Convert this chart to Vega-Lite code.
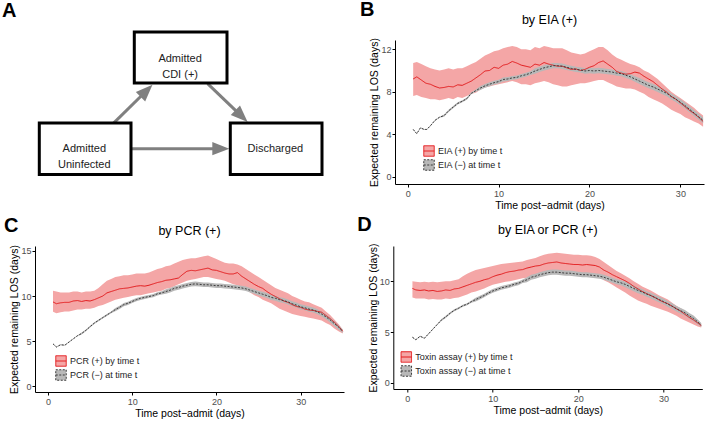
{
"$schema":"https://vega.github.io/schema/vega-lite/v6.json",
"background":"white",
"padding":{"left":2,"top":0,"right":0,"bottom":0},
"config":{
 "font":"Liberation Sans",
 "view":{"stroke":null},
 "axis":{"grid":false,"domainColor":"#000","domainWidth":1,"tickColor":"#000","tickWidth":1,"tickSize":3,"labelFontSize":9,"labelColor":"#4d4d4d","labelPadding":2,"titleFontSize":10.5,"titleFontWeight":"normal","titleColor":"#000"},
 "axisX":{"titlePadding":2},
 "axisY":{"titlePadding":1,"labelPadding":1},
 "legend":{"symbolType":"M-1,-1H1V1H-1ZM-1,0H1","symbolSize":110,"symbolStrokeWidth":1,"labelFontSize":9,"labelColor":"#222","rowPadding":-7,"padding":0,"labelOffset":3},
 "title":{"fontSize":12.5,"fontWeight":"normal","color":"#000","anchor":"middle"}
},
"datasets":{
"boxes":[
 {"label":"Admitted\nCDI (+)","x1":99.3,"x2":192,"y1":-7.9,"y2":43.1,"cx":145.1,"cy":18.7},
 {"label":"Admitted\nUninfected","x1":4.3,"x2":96,"y1":83.1,"y2":134.4,"cx":49.3,"cy":108.7},
 {"label":"Discharged","x1":195.3,"x2":287,"y1":83.1,"y2":134.4,"cx":240.3,"cy":108.7}
],
"arrows":[
 {"x":78.6,"y":83.1,"x2":111.5,"y2":50.7,"hx":111.5,"hy":50.7,"ang":45},
 {"x":172.6,"y":43.7,"x2":206.5,"y2":76.2,"hx":206.5,"hy":76.2,"ang":134},
 {"x":96.6,"y":108.7,"x2":185.8,"y2":108.7,"hx":185.8,"hy":108.7,"ang":90}
],
"B":[
{"t":0.6,"s":"p","m":9.2,"l":7.6,"h":10.7},{"t":1.0,"s":"p","m":9.4,"l":7.7,"h":10.8},{"t":1.5,"s":"p","m":9.1,"l":7.5,"h":10.6},{"t":2.0,"s":"p","m":8.8,"l":7.4,"h":10.4},{"t":2.5,"s":"p","m":8.7,"l":7.3,"h":10.2},{"t":3.0,"s":"p","m":8.5,"l":7.3,"h":10.1},{"t":3.5,"s":"p","m":8.35,"l":7.2,"h":10.0},{"t":4.0,"s":"p","m":8.4,"l":7.3,"h":10.1},{"t":4.5,"s":"p","m":8.5,"l":7.4,"h":10.2},{"t":5.0,"s":"p","m":8.45,"l":7.3,"h":10.1},{"t":5.5,"s":"p","m":8.65,"l":7.5,"h":10.2},{"t":6.0,"s":"p","m":8.6,"l":7.4,"h":10.2},{"t":6.5,"s":"p","m":8.8,"l":7.6,"h":10.4},{"t":7.0,"s":"p","m":9.0,"l":7.8,"h":10.6},{"t":7.5,"s":"p","m":9.3,"l":7.9,"h":10.8},{"t":8.0,"s":"p","m":9.6,"l":8.2,"h":11.1},{"t":8.5,"s":"p","m":9.95,"l":8.4,"h":11.4},{"t":9.0,"s":"p","m":10.0,"l":8.5,"h":11.6},{"t":9.5,"s":"p","m":10.3,"l":8.6,"h":11.8},{"t":10.0,"s":"p","m":10.2,"l":8.7,"h":11.9},{"t":10.5,"s":"p","m":10.5,"l":8.8,"h":12.1},{"t":11.0,"s":"p","m":10.6,"l":8.9,"h":12.2},{"t":11.5,"s":"p","m":10.85,"l":9.0,"h":12.3},{"t":12.0,"s":"p","m":10.7,"l":8.9,"h":12.2},{"t":12.5,"s":"p","m":10.5,"l":8.7,"h":12.0},{"t":13.0,"s":"p","m":10.4,"l":8.7,"h":12.0},{"t":13.5,"s":"p","m":10.3,"l":8.6,"h":11.9},{"t":14.0,"s":"p","m":10.6,"l":8.8,"h":12.2},{"t":14.5,"s":"p","m":10.5,"l":8.9,"h":12.1},{"t":15.0,"s":"p","m":10.75,"l":9.0,"h":12.3},{"t":15.5,"s":"p","m":10.6,"l":8.9,"h":12.2},{"t":16.0,"s":"p","m":10.5,"l":8.7,"h":12.1},{"t":16.5,"s":"p","m":10.4,"l":8.6,"h":12.1},{"t":17.0,"s":"p","m":10.4,"l":8.5,"h":12.1},{"t":17.5,"s":"p","m":10.25,"l":8.5,"h":11.9},{"t":18.0,"s":"p","m":10.1,"l":8.6,"h":11.7},{"t":18.5,"s":"p","m":10.15,"l":8.7,"h":11.6},{"t":19.0,"s":"p","m":10.0,"l":8.8,"h":11.5},{"t":19.5,"s":"p","m":10.1,"l":8.8,"h":11.6},{"t":20.0,"s":"p","m":10.3,"l":8.9,"h":11.8},{"t":20.5,"s":"p","m":10.45,"l":9.0,"h":12.0},{"t":21.0,"s":"p","m":10.75,"l":9.1,"h":12.2},{"t":21.5,"s":"p","m":10.9,"l":9.1,"h":12.2},{"t":22.0,"s":"p","m":10.6,"l":8.9,"h":11.9},{"t":22.5,"s":"p","m":10.3,"l":8.7,"h":11.5},{"t":23.0,"s":"p","m":9.9,"l":8.5,"h":11.2},{"t":23.5,"s":"p","m":9.75,"l":8.4,"h":11.0},{"t":24.0,"s":"p","m":9.65,"l":8.3,"h":10.8},{"t":24.5,"s":"p","m":9.7,"l":8.3,"h":10.6},{"t":25.0,"s":"p","m":9.85,"l":8.2,"h":10.5},{"t":25.5,"s":"p","m":9.75,"l":8.0,"h":10.3},{"t":26.0,"s":"p","m":9.45,"l":7.8,"h":10.0},{"t":26.5,"s":"p","m":9.2,"l":7.5,"h":9.8},{"t":27.0,"s":"p","m":8.95,"l":7.3,"h":9.5},{"t":27.5,"s":"p","m":8.6,"l":7.1,"h":9.2},{"t":28.0,"s":"p","m":8.25,"l":6.9,"h":8.8},{"t":28.5,"s":"p","m":7.95,"l":6.6,"h":8.4},{"t":29.0,"s":"p","m":7.55,"l":6.3,"h":8.0},{"t":29.5,"s":"p","m":7.3,"l":6.1,"h":7.7},{"t":30.0,"s":"p","m":6.95,"l":5.9,"h":7.4},{"t":30.5,"s":"p","m":6.6,"l":5.6,"h":7.1},{"t":31.0,"s":"p","m":6.25,"l":5.4,"h":6.8},{"t":31.5,"s":"p","m":5.95,"l":5.2,"h":6.5},{"t":32.0,"s":"p","m":5.6,"l":5.0,"h":6.1},{"t":32.5,"s":"p","m":5.2,"l":4.7,"h":5.75},
{"t":0.6,"s":"n","m":4.45,"l":4.4,"h":4.5},{"t":1.0,"s":"n","m":4.05,"l":4.0,"h":4.1},{"t":1.4,"s":"n","m":4.6,"l":4.55,"h":4.65},{"t":1.8,"s":"n","m":4.45,"l":4.4,"h":4.5},{"t":2.1,"s":"n","m":4.45,"l":4.4,"h":4.5},{"t":2.5,"s":"n","m":4.8,"l":4.75,"h":4.85},{"t":3.0,"s":"n","m":5.3,"l":5.25,"h":5.35},{"t":3.5,"s":"n","m":5.6,"l":5.55,"h":5.65},{"t":4.0,"s":"n","m":5.75,"l":5.65,"h":5.85},{"t":4.5,"s":"n","m":6.2,"l":6.1,"h":6.3},{"t":5.0,"s":"n","m":6.55,"l":6.45,"h":6.65},{"t":5.5,"s":"n","m":6.9,"l":6.8,"h":7.0},{"t":6.0,"s":"n","m":7.1,"l":7.0,"h":7.2},{"t":6.5,"s":"n","m":7.35,"l":7.25,"h":7.45},{"t":7.0,"s":"n","m":7.85,"l":7.75,"h":7.95},{"t":7.5,"s":"n","m":8.1,"l":8.0,"h":8.2},{"t":8.0,"s":"n","m":8.35,"l":8.17,"h":8.53},{"t":8.5,"s":"n","m":8.55,"l":8.37,"h":8.73},{"t":9.0,"s":"n","m":8.7,"l":8.52,"h":8.88},{"t":9.5,"s":"n","m":8.85,"l":8.67,"h":9.03},{"t":10.0,"s":"n","m":8.95,"l":8.77,"h":9.13},{"t":10.5,"s":"n","m":9.15,"l":8.97,"h":9.33},{"t":11.0,"s":"n","m":9.2,"l":9.02,"h":9.38},{"t":11.5,"s":"n","m":9.3,"l":9.12,"h":9.48},{"t":12.0,"s":"n","m":9.35,"l":9.17,"h":9.53},{"t":12.5,"s":"n","m":9.5,"l":9.32,"h":9.68},{"t":13.0,"s":"n","m":9.6,"l":9.42,"h":9.78},{"t":13.5,"s":"n","m":9.75,"l":9.57,"h":9.93},{"t":14.0,"s":"n","m":9.95,"l":9.7,"h":10.2},{"t":14.5,"s":"n","m":10.1,"l":9.85,"h":10.35},{"t":15.0,"s":"n","m":10.25,"l":10.0,"h":10.5},{"t":15.5,"s":"n","m":10.35,"l":10.1,"h":10.6},{"t":16.0,"s":"n","m":10.45,"l":10.2,"h":10.7},{"t":16.5,"s":"n","m":10.45,"l":10.2,"h":10.7},{"t":17.0,"s":"n","m":10.4,"l":10.15,"h":10.65},{"t":17.5,"s":"n","m":10.3,"l":10.05,"h":10.55},{"t":18.0,"s":"n","m":10.2,"l":9.95,"h":10.45},{"t":18.5,"s":"n","m":10.1,"l":9.85,"h":10.35},{"t":19.0,"s":"n","m":10.05,"l":9.8,"h":10.3},{"t":19.5,"s":"n","m":9.95,"l":9.7,"h":10.2},{"t":20.0,"s":"n","m":10.0,"l":9.75,"h":10.25},{"t":20.5,"s":"n","m":9.95,"l":9.7,"h":10.2},{"t":21.0,"s":"n","m":10.0,"l":9.75,"h":10.25},{"t":21.5,"s":"n","m":9.95,"l":9.7,"h":10.2},{"t":22.0,"s":"n","m":9.9,"l":9.65,"h":10.15},{"t":22.5,"s":"n","m":9.85,"l":9.6,"h":10.1},{"t":23.0,"s":"n","m":9.75,"l":9.5,"h":10.0},{"t":23.5,"s":"n","m":9.7,"l":9.45,"h":9.95},{"t":24.0,"s":"n","m":9.55,"l":9.3,"h":9.8},{"t":24.5,"s":"n","m":9.4,"l":9.15,"h":9.65},{"t":25.0,"s":"n","m":9.2,"l":8.95,"h":9.45},{"t":25.5,"s":"n","m":9.0,"l":8.72,"h":9.28},{"t":26.0,"s":"n","m":8.8,"l":8.52,"h":9.08},{"t":26.5,"s":"n","m":8.6,"l":8.32,"h":8.88},{"t":27.0,"s":"n","m":8.45,"l":8.17,"h":8.73},{"t":27.5,"s":"n","m":8.25,"l":7.97,"h":8.53},{"t":28.0,"s":"n","m":8.05,"l":7.77,"h":8.33},{"t":28.5,"s":"n","m":7.85,"l":7.57,"h":8.13},{"t":29.0,"s":"n","m":7.55,"l":7.27,"h":7.83},{"t":29.5,"s":"n","m":7.3,"l":7.02,"h":7.58},{"t":30.0,"s":"n","m":7.0,"l":6.72,"h":7.28},{"t":30.5,"s":"n","m":6.7,"l":6.42,"h":6.98},{"t":31.0,"s":"n","m":6.35,"l":6.07,"h":6.63},{"t":31.5,"s":"n","m":6.0,"l":5.72,"h":6.28},{"t":32.0,"s":"n","m":5.65,"l":5.37,"h":5.93},{"t":32.5,"s":"n","m":5.3,"l":5.02,"h":5.58}
],
"C":[
{"t":0.6,"s":"p","m":9.35,"l":8.25,"h":10.6},{"t":1.0,"s":"p","m":9.15,"l":8.1,"h":10.5},{"t":1.5,"s":"p","m":9.25,"l":8.2,"h":10.4},{"t":2.0,"s":"p","m":9.3,"l":8.3,"h":10.4},{"t":2.5,"s":"p","m":9.3,"l":8.3,"h":10.4},{"t":3.0,"s":"p","m":9.45,"l":8.4,"h":10.5},{"t":3.5,"s":"p","m":9.5,"l":8.5,"h":10.5},{"t":4.0,"s":"p","m":9.4,"l":8.5,"h":10.4},{"t":4.5,"s":"p","m":9.5,"l":8.6,"h":10.5},{"t":5.0,"s":"p","m":9.45,"l":8.6,"h":10.5},{"t":5.5,"s":"p","m":9.6,"l":8.7,"h":10.6},{"t":6.0,"s":"p","m":9.8,"l":8.9,"h":10.9},{"t":6.5,"s":"p","m":10.0,"l":9.0,"h":11.3},{"t":7.0,"s":"p","m":10.35,"l":9.2,"h":11.7},{"t":7.5,"s":"p","m":10.5,"l":9.4,"h":11.9},{"t":8.0,"s":"p","m":10.65,"l":9.6,"h":12.1},{"t":8.5,"s":"p","m":10.8,"l":9.7,"h":12.2},{"t":9.0,"s":"p","m":10.85,"l":9.8,"h":12.3},{"t":9.5,"s":"p","m":10.9,"l":9.9,"h":12.3},{"t":10.0,"s":"p","m":11.0,"l":10.0,"h":12.4},{"t":10.5,"s":"p","m":11.1,"l":10.1,"h":12.5},{"t":11.0,"s":"p","m":11.15,"l":10.1,"h":12.5},{"t":11.5,"s":"p","m":11.1,"l":10.2,"h":12.5},{"t":12.0,"s":"p","m":11.2,"l":10.3,"h":12.6},{"t":12.5,"s":"p","m":11.35,"l":10.4,"h":12.8},{"t":13.0,"s":"p","m":11.5,"l":10.5,"h":13.0},{"t":13.5,"s":"p","m":11.6,"l":10.6,"h":13.1},{"t":14.0,"s":"p","m":11.75,"l":10.8,"h":13.3},{"t":14.5,"s":"p","m":11.8,"l":10.9,"h":13.4},{"t":15.0,"s":"p","m":11.9,"l":11.1,"h":13.6},{"t":15.5,"s":"p","m":12.0,"l":11.3,"h":13.8},{"t":16.0,"s":"p","m":12.4,"l":11.5,"h":14.0},{"t":16.5,"s":"p","m":12.75,"l":11.7,"h":14.1},{"t":17.0,"s":"p","m":12.85,"l":11.8,"h":14.2},{"t":17.5,"s":"p","m":12.8,"l":11.9,"h":14.2},{"t":18.0,"s":"p","m":12.9,"l":12.0,"h":14.3},{"t":18.5,"s":"p","m":13.0,"l":12.1,"h":14.4},{"t":19.0,"s":"p","m":13.1,"l":12.1,"h":14.5},{"t":19.5,"s":"p","m":12.9,"l":12.0,"h":14.3},{"t":20.0,"s":"p","m":12.85,"l":11.9,"h":14.1},{"t":20.5,"s":"p","m":12.7,"l":11.8,"h":13.9},{"t":21.0,"s":"p","m":12.55,"l":11.7,"h":13.7},{"t":21.5,"s":"p","m":12.45,"l":11.5,"h":13.6},{"t":22.0,"s":"p","m":12.45,"l":11.3,"h":13.6},{"t":22.5,"s":"p","m":12.6,"l":11.2,"h":13.5},{"t":23.0,"s":"p","m":12.2,"l":11.0,"h":13.3},{"t":23.5,"s":"p","m":11.9,"l":10.7,"h":13.0},{"t":24.0,"s":"p","m":11.6,"l":10.4,"h":12.7},{"t":24.5,"s":"p","m":11.3,"l":10.1,"h":12.4},{"t":25.0,"s":"p","m":11.05,"l":9.9,"h":12.1},{"t":25.5,"s":"p","m":10.85,"l":9.6,"h":11.8},{"t":26.0,"s":"p","m":10.5,"l":9.4,"h":11.5},{"t":26.5,"s":"p","m":10.2,"l":9.2,"h":11.2},{"t":27.0,"s":"p","m":9.95,"l":8.9,"h":10.9},{"t":27.5,"s":"p","m":9.7,"l":8.6,"h":10.7},{"t":28.0,"s":"p","m":9.45,"l":8.4,"h":10.5},{"t":28.5,"s":"p","m":9.3,"l":8.2,"h":10.3},{"t":29.0,"s":"p","m":9.05,"l":8.0,"h":10.0},{"t":29.5,"s":"p","m":8.85,"l":7.9,"h":9.8},{"t":30.0,"s":"p","m":8.75,"l":7.8,"h":9.6},{"t":30.5,"s":"p","m":8.55,"l":7.7,"h":9.4},{"t":31.0,"s":"p","m":8.45,"l":7.6,"h":9.3},{"t":31.5,"s":"p","m":8.4,"l":7.5,"h":9.1},{"t":32.0,"s":"p","m":8.3,"l":7.4,"h":8.9},{"t":32.5,"s":"p","m":8.2,"l":7.3,"h":8.7},{"t":33.0,"s":"p","m":7.85,"l":7.0,"h":8.3},{"t":33.5,"s":"p","m":7.5,"l":6.8,"h":7.9},{"t":34.0,"s":"p","m":7.1,"l":6.4,"h":7.4},{"t":34.5,"s":"p","m":6.65,"l":6.1,"h":6.9},{"t":35.0,"s":"p","m":6.1,"l":5.85,"h":6.3},
{"t":0.6,"s":"n","m":4.7,"l":4.65,"h":4.75},{"t":1.0,"s":"n","m":4.35,"l":4.3,"h":4.4},{"t":1.5,"s":"n","m":4.6,"l":4.55,"h":4.65},{"t":2.0,"s":"n","m":4.55,"l":4.5,"h":4.6},{"t":2.5,"s":"n","m":4.9,"l":4.85,"h":4.95},{"t":3.0,"s":"n","m":5.25,"l":5.2,"h":5.3},{"t":3.5,"s":"n","m":5.6,"l":5.55,"h":5.65},{"t":4.0,"s":"n","m":5.85,"l":5.75,"h":5.95},{"t":4.5,"s":"n","m":6.2,"l":6.1,"h":6.3},{"t":5.0,"s":"n","m":6.6,"l":6.5,"h":6.7},{"t":5.5,"s":"n","m":7.0,"l":6.9,"h":7.1},{"t":6.0,"s":"n","m":7.3,"l":7.2,"h":7.4},{"t":6.5,"s":"n","m":7.6,"l":7.5,"h":7.7},{"t":7.0,"s":"n","m":7.9,"l":7.8,"h":8.0},{"t":7.5,"s":"n","m":8.2,"l":8.1,"h":8.3},{"t":8.0,"s":"n","m":8.5,"l":8.32,"h":8.68},{"t":8.5,"s":"n","m":8.75,"l":8.57,"h":8.93},{"t":9.0,"s":"n","m":9.05,"l":8.87,"h":9.23},{"t":9.5,"s":"n","m":9.2,"l":9.02,"h":9.38},{"t":10.0,"s":"n","m":9.4,"l":9.22,"h":9.58},{"t":10.5,"s":"n","m":9.6,"l":9.42,"h":9.78},{"t":11.0,"s":"n","m":9.75,"l":9.57,"h":9.93},{"t":11.5,"s":"n","m":9.85,"l":9.67,"h":10.03},{"t":12.0,"s":"n","m":9.95,"l":9.77,"h":10.13},{"t":12.5,"s":"n","m":10.05,"l":9.87,"h":10.23},{"t":13.0,"s":"n","m":10.25,"l":10.07,"h":10.43},{"t":13.5,"s":"n","m":10.35,"l":10.17,"h":10.53},{"t":14.0,"s":"n","m":10.5,"l":10.25,"h":10.75},{"t":14.5,"s":"n","m":10.65,"l":10.4,"h":10.9},{"t":15.0,"s":"n","m":10.85,"l":10.6,"h":11.1},{"t":15.5,"s":"n","m":10.95,"l":10.7,"h":11.2},{"t":16.0,"s":"n","m":11.1,"l":10.85,"h":11.35},{"t":16.5,"s":"n","m":11.2,"l":10.95,"h":11.45},{"t":17.0,"s":"n","m":11.3,"l":11.05,"h":11.55},{"t":17.5,"s":"n","m":11.35,"l":11.1,"h":11.6},{"t":18.0,"s":"n","m":11.3,"l":11.05,"h":11.55},{"t":18.5,"s":"n","m":11.25,"l":11.0,"h":11.5},{"t":19.0,"s":"n","m":11.25,"l":11.0,"h":11.5},{"t":19.5,"s":"n","m":11.2,"l":10.95,"h":11.45},{"t":20.0,"s":"n","m":11.15,"l":10.9,"h":11.4},{"t":20.5,"s":"n","m":11.15,"l":10.9,"h":11.4},{"t":21.0,"s":"n","m":11.1,"l":10.85,"h":11.35},{"t":21.5,"s":"n","m":11.05,"l":10.8,"h":11.3},{"t":22.0,"s":"n","m":11.0,"l":10.75,"h":11.25},{"t":22.5,"s":"n","m":10.95,"l":10.7,"h":11.2},{"t":23.0,"s":"n","m":10.9,"l":10.65,"h":11.15},{"t":23.5,"s":"n","m":10.8,"l":10.55,"h":11.05},{"t":24.0,"s":"n","m":10.65,"l":10.4,"h":10.9},{"t":24.5,"s":"n","m":10.5,"l":10.25,"h":10.75},{"t":25.0,"s":"n","m":10.35,"l":10.1,"h":10.6},{"t":25.5,"s":"n","m":10.2,"l":9.92,"h":10.48},{"t":26.0,"s":"n","m":10.05,"l":9.77,"h":10.33},{"t":26.5,"s":"n","m":9.85,"l":9.57,"h":10.13},{"t":27.0,"s":"n","m":9.75,"l":9.47,"h":10.03},{"t":27.5,"s":"n","m":9.6,"l":9.32,"h":9.88},{"t":28.0,"s":"n","m":9.5,"l":9.22,"h":9.78},{"t":28.5,"s":"n","m":9.35,"l":9.07,"h":9.63},{"t":29.0,"s":"n","m":9.15,"l":8.87,"h":9.43},{"t":29.5,"s":"n","m":9.0,"l":8.72,"h":9.28},{"t":30.0,"s":"n","m":8.8,"l":8.52,"h":9.08},{"t":30.5,"s":"n","m":8.7,"l":8.42,"h":8.98},{"t":31.0,"s":"n","m":8.55,"l":8.27,"h":8.83},{"t":31.5,"s":"n","m":8.45,"l":8.17,"h":8.73},{"t":32.0,"s":"n","m":8.25,"l":7.97,"h":8.53},{"t":32.5,"s":"n","m":8.0,"l":7.72,"h":8.28},{"t":33.0,"s":"n","m":7.7,"l":7.42,"h":7.98},{"t":33.5,"s":"n","m":7.35,"l":7.07,"h":7.63},{"t":34.0,"s":"n","m":6.95,"l":6.67,"h":7.23},{"t":34.5,"s":"n","m":6.55,"l":6.3,"h":6.8},{"t":35.0,"s":"n","m":6.1,"l":5.9,"h":6.3}
],
"D":[
{"t":0.6,"s":"p","m":9.3,"l":8.4,"h":10.0},{"t":1.0,"s":"p","m":9.15,"l":8.3,"h":9.95},{"t":1.5,"s":"p","m":9.1,"l":8.3,"h":9.9},{"t":2.0,"s":"p","m":9.15,"l":8.3,"h":9.95},{"t":2.5,"s":"p","m":9.05,"l":8.2,"h":9.9},{"t":3.0,"s":"p","m":9.1,"l":8.25,"h":9.95},{"t":3.5,"s":"p","m":9.0,"l":8.2,"h":9.9},{"t":4.0,"s":"p","m":9.05,"l":8.2,"h":9.95},{"t":4.5,"s":"p","m":9.15,"l":8.3,"h":10.0},{"t":5.0,"s":"p","m":9.1,"l":8.25,"h":10.0},{"t":5.5,"s":"p","m":9.25,"l":8.35,"h":10.1},{"t":6.0,"s":"p","m":9.3,"l":8.4,"h":10.2},{"t":6.5,"s":"p","m":9.45,"l":8.55,"h":10.5},{"t":7.0,"s":"p","m":9.6,"l":8.7,"h":10.75},{"t":7.5,"s":"p","m":9.75,"l":8.9,"h":10.95},{"t":8.0,"s":"p","m":9.9,"l":9.0,"h":11.1},{"t":8.5,"s":"p","m":10.0,"l":9.15,"h":11.2},{"t":9.0,"s":"p","m":10.15,"l":9.3,"h":11.3},{"t":9.5,"s":"p","m":10.25,"l":9.5,"h":11.4},{"t":10.0,"s":"p","m":10.45,"l":9.65,"h":11.5},{"t":10.5,"s":"p","m":10.6,"l":9.75,"h":11.6},{"t":11.0,"s":"p","m":10.7,"l":9.85,"h":11.7},{"t":11.5,"s":"p","m":10.85,"l":9.95,"h":11.75},{"t":12.0,"s":"p","m":10.95,"l":10.0,"h":11.8},{"t":12.5,"s":"p","m":11.0,"l":10.1,"h":11.85},{"t":13.0,"s":"p","m":11.1,"l":10.2,"h":11.9},{"t":13.5,"s":"p","m":11.15,"l":10.3,"h":11.95},{"t":14.0,"s":"p","m":11.3,"l":10.35,"h":12.1},{"t":14.5,"s":"p","m":11.4,"l":10.45,"h":12.2},{"t":15.0,"s":"p","m":11.5,"l":10.55,"h":12.3},{"t":15.5,"s":"p","m":11.55,"l":10.65,"h":12.45},{"t":16.0,"s":"p","m":11.7,"l":10.8,"h":12.6},{"t":16.5,"s":"p","m":11.8,"l":10.95,"h":12.7},{"t":17.0,"s":"p","m":11.85,"l":11.0,"h":12.75},{"t":17.5,"s":"p","m":11.9,"l":11.0,"h":12.8},{"t":18.0,"s":"p","m":11.8,"l":10.95,"h":12.75},{"t":18.5,"s":"p","m":11.75,"l":10.9,"h":12.7},{"t":19.0,"s":"p","m":11.7,"l":10.9,"h":12.65},{"t":19.5,"s":"p","m":11.65,"l":10.85,"h":12.6},{"t":20.0,"s":"p","m":11.65,"l":10.8,"h":12.6},{"t":20.5,"s":"p","m":11.6,"l":10.75,"h":12.55},{"t":21.0,"s":"p","m":11.65,"l":10.75,"h":12.55},{"t":21.5,"s":"p","m":11.6,"l":10.7,"h":12.5},{"t":22.0,"s":"p","m":11.55,"l":10.6,"h":12.4},{"t":22.5,"s":"p","m":11.4,"l":10.4,"h":12.2},{"t":23.0,"s":"p","m":11.1,"l":10.1,"h":11.9},{"t":23.5,"s":"p","m":10.9,"l":9.9,"h":11.6},{"t":24.0,"s":"p","m":10.65,"l":9.65,"h":11.3},{"t":24.5,"s":"p","m":10.45,"l":9.4,"h":11.0},{"t":25.0,"s":"p","m":10.25,"l":9.15,"h":10.8},{"t":25.5,"s":"p","m":10.05,"l":8.9,"h":10.55},{"t":26.0,"s":"p","m":9.8,"l":8.6,"h":10.3},{"t":26.5,"s":"p","m":9.5,"l":8.35,"h":10.0},{"t":27.0,"s":"p","m":9.25,"l":8.1,"h":9.75},{"t":27.5,"s":"p","m":9.0,"l":7.95,"h":9.5},{"t":28.0,"s":"p","m":8.8,"l":7.8,"h":9.3},{"t":28.5,"s":"p","m":8.6,"l":7.6,"h":9.1},{"t":29.0,"s":"p","m":8.4,"l":7.45,"h":8.85},{"t":29.5,"s":"p","m":8.15,"l":7.3,"h":8.6},{"t":30.0,"s":"p","m":7.95,"l":7.15,"h":8.4},{"t":30.5,"s":"p","m":7.8,"l":7.0,"h":8.2},{"t":31.0,"s":"p","m":7.55,"l":6.8,"h":7.9},{"t":31.5,"s":"p","m":7.3,"l":6.6,"h":7.6},{"t":32.0,"s":"p","m":7.05,"l":6.35,"h":7.35},{"t":32.5,"s":"p","m":6.75,"l":6.15,"h":7.1},{"t":33.0,"s":"p","m":6.45,"l":5.95,"h":6.75},{"t":33.5,"s":"p","m":6.2,"l":5.75,"h":6.45},{"t":34.0,"s":"p","m":5.9,"l":5.55,"h":6.1},{"t":34.4,"s":"p","m":5.65,"l":5.45,"h":5.85},
{"t":0.6,"s":"n","m":4.5,"l":4.45,"h":4.55},{"t":1.0,"s":"n","m":4.25,"l":4.2,"h":4.3},{"t":1.5,"s":"n","m":4.6,"l":4.55,"h":4.65},{"t":2.0,"s":"n","m":4.4,"l":4.35,"h":4.45},{"t":2.5,"s":"n","m":4.85,"l":4.8,"h":4.9},{"t":3.0,"s":"n","m":5.3,"l":5.25,"h":5.35},{"t":3.5,"s":"n","m":5.75,"l":5.7,"h":5.8},{"t":4.0,"s":"n","m":6.2,"l":6.1,"h":6.3},{"t":4.5,"s":"n","m":6.5,"l":6.4,"h":6.6},{"t":5.0,"s":"n","m":6.85,"l":6.75,"h":6.95},{"t":5.5,"s":"n","m":7.15,"l":7.05,"h":7.25},{"t":6.0,"s":"n","m":7.35,"l":7.25,"h":7.45},{"t":6.5,"s":"n","m":7.6,"l":7.5,"h":7.7},{"t":7.0,"s":"n","m":7.75,"l":7.65,"h":7.85},{"t":7.5,"s":"n","m":8.0,"l":7.9,"h":8.1},{"t":8.0,"s":"n","m":8.2,"l":8.02,"h":8.38},{"t":8.5,"s":"n","m":8.4,"l":8.22,"h":8.58},{"t":9.0,"s":"n","m":8.6,"l":8.42,"h":8.78},{"t":9.5,"s":"n","m":8.85,"l":8.67,"h":9.03},{"t":10.0,"s":"n","m":9.05,"l":8.87,"h":9.23},{"t":10.5,"s":"n","m":9.2,"l":9.02,"h":9.38},{"t":11.0,"s":"n","m":9.35,"l":9.17,"h":9.53},{"t":11.5,"s":"n","m":9.45,"l":9.27,"h":9.63},{"t":12.0,"s":"n","m":9.55,"l":9.37,"h":9.73},{"t":12.5,"s":"n","m":9.7,"l":9.52,"h":9.88},{"t":13.0,"s":"n","m":9.8,"l":9.62,"h":9.98},{"t":13.5,"s":"n","m":10.0,"l":9.82,"h":10.18},{"t":14.0,"s":"n","m":10.15,"l":9.9,"h":10.4},{"t":14.5,"s":"n","m":10.4,"l":10.15,"h":10.65},{"t":15.0,"s":"n","m":10.5,"l":10.25,"h":10.75},{"t":15.5,"s":"n","m":10.65,"l":10.4,"h":10.9},{"t":16.0,"s":"n","m":10.75,"l":10.5,"h":11.0},{"t":16.5,"s":"n","m":10.85,"l":10.6,"h":11.1},{"t":17.0,"s":"n","m":10.9,"l":10.65,"h":11.15},{"t":17.5,"s":"n","m":10.9,"l":10.65,"h":11.15},{"t":18.0,"s":"n","m":10.85,"l":10.6,"h":11.1},{"t":18.5,"s":"n","m":10.8,"l":10.55,"h":11.05},{"t":19.0,"s":"n","m":10.8,"l":10.55,"h":11.05},{"t":19.5,"s":"n","m":10.75,"l":10.5,"h":11.0},{"t":20.0,"s":"n","m":10.7,"l":10.45,"h":10.95},{"t":20.5,"s":"n","m":10.65,"l":10.4,"h":10.9},{"t":21.0,"s":"n","m":10.65,"l":10.4,"h":10.9},{"t":21.5,"s":"n","m":10.6,"l":10.35,"h":10.85},{"t":22.0,"s":"n","m":10.55,"l":10.3,"h":10.8},{"t":22.5,"s":"n","m":10.5,"l":10.25,"h":10.75},{"t":23.0,"s":"n","m":10.4,"l":10.15,"h":10.65},{"t":23.5,"s":"n","m":10.25,"l":10.0,"h":10.5},{"t":24.0,"s":"n","m":10.1,"l":9.85,"h":10.35},{"t":24.5,"s":"n","m":9.95,"l":9.7,"h":10.2},{"t":25.0,"s":"n","m":9.85,"l":9.6,"h":10.1},{"t":25.5,"s":"n","m":9.7,"l":9.42,"h":9.98},{"t":26.0,"s":"n","m":9.5,"l":9.22,"h":9.78},{"t":26.5,"s":"n","m":9.3,"l":9.02,"h":9.58},{"t":27.0,"s":"n","m":9.1,"l":8.82,"h":9.38},{"t":27.5,"s":"n","m":8.95,"l":8.67,"h":9.23},{"t":28.0,"s":"n","m":8.75,"l":8.47,"h":9.03},{"t":28.5,"s":"n","m":8.6,"l":8.32,"h":8.88},{"t":29.0,"s":"n","m":8.4,"l":8.12,"h":8.68},{"t":29.5,"s":"n","m":8.2,"l":7.92,"h":8.48},{"t":30.0,"s":"n","m":8.0,"l":7.72,"h":8.28},{"t":30.5,"s":"n","m":7.75,"l":7.47,"h":8.03},{"t":31.0,"s":"n","m":7.55,"l":7.27,"h":7.83},{"t":31.5,"s":"n","m":7.3,"l":7.02,"h":7.58},{"t":32.0,"s":"n","m":7.1,"l":6.82,"h":7.38},{"t":32.5,"s":"n","m":6.9,"l":6.62,"h":7.18},{"t":33.0,"s":"n","m":6.6,"l":6.32,"h":6.88},{"t":33.5,"s":"n","m":6.35,"l":6.07,"h":6.63},{"t":34.0,"s":"n","m":6.0,"l":5.75,"h":6.25},{"t":34.4,"s":"n","m":5.7,"l":5.5,"h":5.9}
]
},
"spacing":3,
"resolve":{"scale":{"fill":"independent","stroke":"independent","strokeDash":"independent"}},
"vconcat":[
{"spacing":16,"resolve":{"scale":{"fill":"independent","stroke":"independent","strokeDash":"independent"}},"hconcat":[
 {"title":{"text":"A","anchor":"start","frame":"bounds","fontSize":20,"fontWeight":"bold","offset":13,"dx":-33,"dy":3},
  "width":308,"height":140,
  "layer":[
   {"data":{"name":"arrows"},"mark":{"type":"rule","color":"#808080","strokeWidth":3},
    "encoding":{"x":{"field":"x","type":"quantitative","scale":{"domain":[0,308],"nice":false,"zero":false},"axis":null},
                "y":{"field":"y","type":"quantitative","scale":{"domain":[0,140],"nice":false,"zero":false,"reverse":true},"axis":null},
                "x2":{"field":"x2"},"y2":{"field":"y2"}}},
   {"data":{"name":"arrows"},"mark":{"type":"point","shape":"M0,-1L0.78,1L-0.78,1Z","filled":true,"color":"#808080","opacity":1,"size":289},
    "encoding":{"x":{"field":"hx","type":"quantitative"},"y":{"field":"hy","type":"quantitative"},"angle":{"field":"ang","type":"quantitative","scale":null}}},
   {"data":{"name":"boxes"},"mark":{"type":"rect","fill":"white","stroke":"black","strokeWidth":3},
    "encoding":{"x":{"field":"x1","type":"quantitative"},"x2":{"field":"x2"},"y":{"field":"y1","type":"quantitative"},"y2":{"field":"y2"}}},
   {"data":{"name":"boxes"},"mark":{"type":"text","fontSize":11,"lineBreak":"\n","lineHeight":16,"color":"#222"},
    "encoding":{"x":{"field":"cx","type":"quantitative"},"y":{"field":"cy","type":"quantitative"},"text":{"field":"label"}}}
  ]},
 {"title":{"text":"B","anchor":"start","frame":"bounds","fontSize":20,"fontWeight":"bold","offset":-6,"dx":-10},
  "resolve":{"scale":{"fill":"independent","stroke":"independent","strokeDash":"independent"}},
  "vconcat":[{
   "title":{"text":"by EIA (+)","offset":11},
   "width":309,"height":144,
   "data":{"name":"B"},
   "encoding":{"x":{"field":"t","type":"quantitative","scale":{"domain":[-1.4,32.6],"nice":false,"zero":false},"axis":{"title":"Time post−admit (days)","values":[0,10,20,30]}}},
   "layer":[
    {"mark":{"type":"area"},"encoding":{
      "y":{"field":"l","type":"quantitative","stack":null,"scale":{"domain":[-0.69,12.87],"nice":false,"zero":false},"axis":{"title":"Expected remaining LOS (days)","values":[0,4,8,12]}},
      "y2":{"field":"h"},
      "fill":{"field":"s","type":"nominal","scale":{"domain":["p","n"],"range":["#f4a6a6","#b8b8b8"]},
        "legend":{"title":null,"orient":"none","legendX":28,"legendY":105,"labelExpr":"datum.label == 'p' ? 'EIA (+) by time t' : 'EIA (−) at time t'"}}}},
    {"mark":{"type":"line","strokeWidth":1},"encoding":{
      "y":{"field":"m","type":"quantitative","axis":{"title":"Expected remaining LOS (days)","values":[0,4,8,12]}},
      "stroke":{"field":"s","type":"nominal","scale":{"domain":["p","n"],"range":["#e31a1c","#3c3c3c"]},
        "legend":{"title":null,"orient":"none","legendX":28,"legendY":105,"labelExpr":"datum.label == 'p' ? 'EIA (+) by time t' : 'EIA (−) at time t'"}},
      "strokeDash":{"field":"s","type":"nominal","scale":{"domain":["p","n"],"range":[[1,0],[2,1.5]]},
        "legend":{"title":null,"orient":"none","legendX":28,"legendY":105,"labelExpr":"datum.label == 'p' ? 'EIA (+) by time t' : 'EIA (−) at time t'"}}}}
   ]}]}
]},
{"spacing":11.3,"resolve":{"scale":{"fill":"independent","stroke":"independent","strokeDash":"independent"}},"hconcat":[
 {"title":{"text":"C","anchor":"start","frame":"bounds","fontSize":20,"fontWeight":"bold","offset":-11,"dx":-6},
  "resolve":{"scale":{"fill":"independent","stroke":"independent","strokeDash":"independent"}},
  "vconcat":[{
   "title":{"text":"by PCR (+)","offset":7},
   "width":309,"height":146,
   "data":{"name":"C"},
   "encoding":{"x":{"field":"t","type":"quantitative","scale":{"domain":[-1.54,35.15],"nice":false,"zero":false},"axis":{"title":"Time post−admit (days)","values":[0,10,20,30]}}},
   "layer":[
    {"mark":{"type":"area"},"encoding":{
      "y":{"field":"l","type":"quantitative","stack":null,"scale":{"domain":[-0.64,15.55],"nice":false,"zero":false},"axis":{"title":"Expected remaining LOS (days)","values":[0,5,10,15]}},
      "y2":{"field":"h"},
      "fill":{"field":"s","type":"nominal","scale":{"domain":["p","n"],"range":["#f4a6a6","#b8b8b8"]},
        "legend":{"title":null,"orient":"none","legendX":20,"legendY":109,"labelExpr":"datum.label == 'p' ? 'PCR (+) by time t' : 'PCR (−) at time t'"}}}},
    {"mark":{"type":"line","strokeWidth":1},"encoding":{
      "y":{"field":"m","type":"quantitative","axis":{"title":"Expected remaining LOS (days)","values":[0,5,10,15]}},
      "stroke":{"field":"s","type":"nominal","scale":{"domain":["p","n"],"range":["#e31a1c","#3c3c3c"]},
        "legend":{"title":null,"orient":"none","legendX":20,"legendY":109,"labelExpr":"datum.label == 'p' ? 'PCR (+) by time t' : 'PCR (−) at time t'"}},
      "strokeDash":{"field":"s","type":"nominal","scale":{"domain":["p","n"],"range":[[1,0],[2,1.5]]},
        "legend":{"title":null,"orient":"none","legendX":20,"legendY":109,"labelExpr":"datum.label == 'p' ? 'PCR (+) by time t' : 'PCR (−) at time t'"}}}}
   ]}]},
 {"title":{"text":"D","anchor":"start","frame":"bounds","fontSize":20,"fontWeight":"bold","offset":-11,"dx":-11},
  "resolve":{"scale":{"fill":"independent","stroke":"independent","strokeDash":"independent"}},
  "vconcat":[{
   "title":{"text":"by EIA or PCR (+)","offset":7},
   "width":309,"height":143,
   "data":{"name":"D"},
   "encoding":{"x":{"field":"t","type":"quantitative","scale":{"domain":[-1.64,34.53],"nice":false,"zero":false},"axis":{"title":"Time post−admit (days)","values":[0,10,20,30]}}},
   "layer":[
    {"mark":{"type":"area"},"encoding":{
      "y":{"field":"l","type":"quantitative","stack":null,"scale":{"domain":[-0.59,13.47],"nice":false,"zero":false},"axis":{"title":"Expected remaining LOS (days)","values":[0,5,10]}},
      "y2":{"field":"h"},
      "fill":{"field":"s","type":"nominal","scale":{"domain":["p","n"],"range":["#f4a6a6","#b8b8b8"]},
        "legend":{"title":null,"orient":"none","legendX":7,"legendY":105,"labelExpr":"datum.label == 'p' ? 'Toxin assay (+) by time t' : 'Toxin assay (−) at time t'"}}}},
    {"mark":{"type":"line","strokeWidth":1},"encoding":{
      "y":{"field":"m","type":"quantitative","axis":{"title":"Expected remaining LOS (days)","values":[0,5,10]}},
      "stroke":{"field":"s","type":"nominal","scale":{"domain":["p","n"],"range":["#e31a1c","#3c3c3c"]},
        "legend":{"title":null,"orient":"none","legendX":7,"legendY":105,"labelExpr":"datum.label == 'p' ? 'Toxin assay (+) by time t' : 'Toxin assay (−) at time t'"}},
      "strokeDash":{"field":"s","type":"nominal","scale":{"domain":["p","n"],"range":[[1,0],[2,1.5]]},
        "legend":{"title":null,"orient":"none","legendX":7,"legendY":105,"labelExpr":"datum.label == 'p' ? 'Toxin assay (+) by time t' : 'Toxin assay (−) at time t'"}}}}
   ]}]}
]}
]
}
